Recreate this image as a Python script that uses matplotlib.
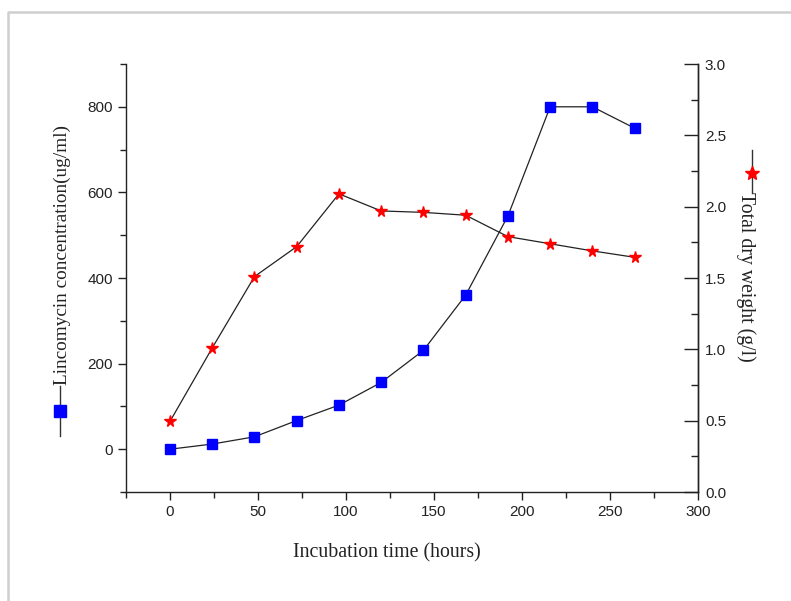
import matplotlib
matplotlib.use('Agg')
import matplotlib.pyplot as plt
from matplotlib.lines import Line2D
from matplotlib.ticker import MultipleLocator, FormatStrFormatter

## Data
hours = [0, 24, 48, 72, 96, 120, 144, 168, 192, 216, 240, 264]
lincomycin = [0, 12, 29, 67, 103, 156, 231, 360, 545, 800, 800, 750]
dry_weight = [0.495, 1.01, 1.51, 1.72, 2.09, 1.97, 1.96, 1.94, 1.79, 1.74, 1.69, 1.645]

W, H = 791, 601
fig = plt.figure(figsize=(W / 100, H / 100), dpi=100)
ax = fig.add_axes([126 / W, 1 - 492 / H, (698 - 126) / W, (492 - 64) / H])
ax2 = ax.twinx()

tick_font = 'Liberation Sans'
label_font = 'Liberation Serif'
ink = '#222222'

ax.plot(hours, lincomycin, color=ink, lw=0.9, marker='s', ms=7.5,
        mfc='blue', mec='blue', zorder=3)
ax2.plot(hours, dry_weight, color=ink, lw=0.9, marker='*', ms=8.5,
         mfc='red', mec='red', zorder=3)

ax.set_xlim(-25, 300)
ax.set_ylim(-100, 900)
ax2.set_ylim(0, 3.0)

ax.xaxis.set_major_locator(MultipleLocator(50))
ax.xaxis.set_minor_locator(MultipleLocator(25))
ax.yaxis.set_major_locator(MultipleLocator(200))
ax.yaxis.set_minor_locator(MultipleLocator(100))
ax2.yaxis.set_major_locator(MultipleLocator(0.5))
ax2.yaxis.set_minor_locator(MultipleLocator(0.25))
ax2.yaxis.set_major_formatter(FormatStrFormatter('%.1f'))

for a in (ax, ax2):
    a.spines['top'].set_visible(False)
    for s in a.spines.values():
        s.set_linewidth(1.0)
        s.set_color(ink)
ax2.spines['left'].set_visible(False)
ax2.spines['bottom'].set_visible(False)

ax.tick_params(axis='both', which='major', direction='out', length=6, width=1,
               labelsize=11, color=ink, labelcolor=ink)
ax.tick_params(axis='both', which='minor', direction='out', length=4, width=1,
               color=ink)
ax2.tick_params(axis='y', which='major', direction='in', length=10, width=1,
                labelsize=11, color=ink, labelcolor=ink, pad=5)
ax2.tick_params(axis='y', which='minor', direction='in', length=5, width=1,
                color=ink)
for lab in ax.get_xticklabels() + ax.get_yticklabels() + ax2.get_yticklabels():
    lab.set_fontfamily(tick_font)

# axis titles
fig.text(387 / W, 1 - 553 / H, 'Incubation time (hours)', family=label_font,
         fontsize=14.3, ha='center', va='center', color=ink)
fig.text(62 / W, 1 - 255 / H, 'Lincomycin concentration(ug/ml)', family=label_font,
         fontsize=13.9, ha='center', va='center', rotation=90, color=ink)
fig.text(746 / W, 1 - 277 / H, 'Total dry weight (g/l)', family=label_font,
         fontsize=14.2, ha='center', va='center', rotation=-90, color=ink)


def to_fig(x, y):
    return x / W, 1 - y / H


# legend symbols beside the axis titles
x0, y0 = to_fig(60, 386)
x1, y1 = to_fig(60, 436)
fig.add_artist(Line2D([x0, x1], [y0, y1], color='#333333', lw=1.0,
                      transform=fig.transFigure))
xm, ym = to_fig(60, 411)
fig.add_artist(Line2D([xm], [ym], marker='s', ms=8, mfc='blue', mec='blue',
                      transform=fig.transFigure))

x0, y0 = to_fig(752, 150)
x1, y1 = to_fig(752, 193)
fig.add_artist(Line2D([x0, x1], [y0, y1], color='#333333', lw=1.0,
                      transform=fig.transFigure))
xm, ym = to_fig(752, 173)
fig.add_artist(Line2D([xm], [ym], marker='*', ms=10, mfc='red', mec='red',
                      transform=fig.transFigure))

# grey frame around the figure
bx, by = to_fig(8, 12)
fig.add_artist(Line2D([bx, bx, 1.01], [-0.01, by, by], color='#cfcfcf', lw=1.8,
                      transform=fig.transFigure))

fig.savefig('out.png', dpi=100)
